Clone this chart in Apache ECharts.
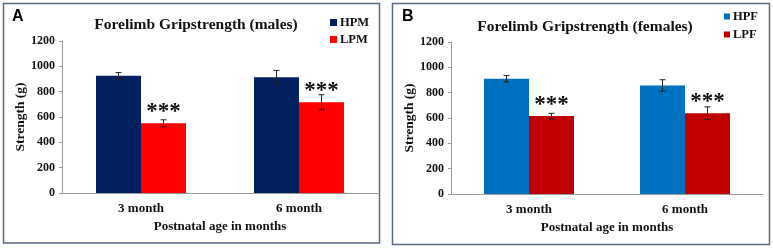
<!DOCTYPE html>
<html>
<head>
<meta charset="utf-8">
<script src="https://cdn.jsdelivr.net/npm/echarts@6/dist/echarts.min.js"></script>
<style>
  html, body { margin: 0; padding: 0; background: #fff; }
  #main { width: 773px; height: 248px; }
</style>
</head>
<body>
<div id="main"></div>
<script>
// categories and values
const categories = ['3 month', '6 month'];
const yTicks = { min: 0, max: 1200, step: 200 };

const hpm = [926, 913];
const hpmErr = [25, 55];
const lpm = [550, 716];
const lpmErr = [28, 60];

const hpf = [910, 857];
const hpfErr = [25, 45];
const lpf = [615, 638];
const lpfErr = [22, 50];

const stars = ['***', '***'];

const serif = 'Liberation Serif';
const BAR_W = 45;

let myChart = echarts.init(document.getElementById('main'));

function makeXAxis(gridIndex) {
    return {
        type: 'category',
        gridIndex: gridIndex,
        data: categories,
        name: 'Postnatal age in months',
        nameLocation: 'middle',
        nameGap: 27,
        nameTextStyle: {fontFamily: serif, fontWeight: 'bold', fontSize: 13, color: '#111'},
        axisLine: {lineStyle: {color: '#9a9a9a', width: 1}},
        axisTick: {show: false},
        axisLabel: {fontFamily: serif, fontWeight: 'bold', fontSize: 13, color: '#111', margin: 9}
    };
}

function makeYAxis(gridIndex) {
    return {
        type: 'value',
        gridIndex: gridIndex,
        min: yTicks.min,
        max: yTicks.max,
        interval: yTicks.step,
        name: 'Strength (g)',
        nameLocation: 'middle',
        nameGap: 31,
        nameTextStyle: {fontFamily: serif, fontWeight: 'bold', fontSize: 13.5, color: '#111'},
        axisLine: {show: true, lineStyle: {color: '#9a9a9a', width: 1}},
        axisTick: {show: true, length: 3, lineStyle: {color: '#9a9a9a'}},
        splitLine: {show: false},
        axisLabel: {
            fontFamily: serif, fontWeight: 'bold', fontSize: 12, color: '#111', margin: 7,
            formatter: v => String(v)
        }
    };
}

// error bars drawn at the bar centre (left bar: -1, right bar: +1)
function errorSeries(name, values, errs, side, idx) {
    return {
        type: 'custom',
        name: name + ' err',
        xAxisIndex: idx,
        yAxisIndex: idx,
        z: 5,
        silent: true,
        data: values.map((v, i) => [i, v, errs[i]]),
        renderItem: function (params, api) {
            let c = api.value(0);
            let v = api.value(1);
            let e = api.value(2);
            let hi = api.coord([c, v + e]);
            let lo = api.coord([c, v - e]);
            let x = hi[0] + side * BAR_W / 2;
            let cap = 3;
            let st = {stroke: '#222', lineWidth: 1};
            return {
                type: 'group',
                children: [
                    {type: 'line', shape: {x1: x, y1: hi[1], x2: x, y2: lo[1]}, style: st},
                    {type: 'line', shape: {x1: x - cap, y1: hi[1], x2: x + cap, y2: hi[1]}, style: st},
                    {type: 'line', shape: {x1: x - cap, y1: lo[1], x2: x + cap, y2: lo[1]}, style: st}
                ]
            };
        }
    };
}

function barSeries(name, values, color, idx, withStars) {
    let s = {
        type: 'bar',
        name: name,
        xAxisIndex: idx,
        yAxisIndex: idx,
        data: values,
        barWidth: BAR_W,
        barGap: '0%',
        itemStyle: {color: color}
    };
    if (withStars) {
        s.label = {
            show: true,
            position: 'top',
            distance: 0,
            formatter: p => stars[p.dataIndex],
            fontFamily: serif,
            fontWeight: 'bold',
            fontSize: 23,
            color: '#111'
        };
    }
    return s;
}

let option = {
    backgroundColor: '#fff',
    animation: false,
    title: [
        {
            text: 'Forelimb Gripstrength (males)',
            left: 191, top: 12, textAlign: 'center',
            textStyle: {fontFamily: serif, fontWeight: 'bold', fontSize: 15.5, color: '#111'}
        },
        {
            text: 'Forelimb Gripstrength (females)',
            left: 580, top: 14, textAlign: 'center',
            textStyle: {fontFamily: serif, fontWeight: 'bold', fontSize: 15.5, color: '#111'}
        },
        {
            text: 'A', left: 7, top: 4,
            textStyle: {fontFamily: 'Liberation Sans', fontWeight: 'bold', fontSize: 16, color: '#000'}
        },
        {
            text: 'B', left: 397, top: 4,
            textStyle: {fontFamily: 'Liberation Sans', fontWeight: 'bold', fontSize: 16, color: '#000'}
        }
    ],
    legend: [
        {
            data: ['HPM', 'LPM'],
            orient: 'vertical',
            left: 325, top: 11,
            itemWidth: 7, itemHeight: 7, itemGap: 4,
            icon: 'rect',
            textStyle: {fontFamily: serif, fontWeight: 'bold', fontSize: 12.5, color: '#111', padding: [0, 0, 0, -2]}
        },
        {
            data: ['HPF', 'LPF'],
            orient: 'vertical',
            left: 719, top: 5,
            itemWidth: 6, itemHeight: 6, itemGap: 5,
            icon: 'rect',
            textStyle: {fontFamily: serif, fontWeight: 'bold', fontSize: 12.5, color: '#111', padding: [0, 0, 0, -2]}
        }
    ],
    grid: [
        {left: 62, right: 395, top: 41, bottom: 55},
        {left: 451, right: 10, top: 42, bottom: 54}
    ],
    xAxis: [makeXAxis(0), makeXAxis(1)],
    yAxis: [makeYAxis(0), makeYAxis(1)],
    series: [
        barSeries('HPM', hpm, '#002060', 0, false),
        barSeries('LPM', lpm, '#ff0000', 0, true),
        barSeries('HPF', hpf, '#0070c0', 1, false),
        barSeries('LPF', lpf, '#c00000', 1, true),
        errorSeries('HPM', hpm, hpmErr, -1, 0),
        errorSeries('LPM', lpm, lpmErr, 1, 0),
        errorSeries('HPF', hpf, hpfErr, -1, 1),
        errorSeries('LPF', lpf, lpfErr, 1, 1)
    ],
    graphic: [
        {type: 'rect', shape: {x: 3.5, y: 3.5, width: 376, height: 239.5},
            style: {fill: 'none', stroke: '#5a6a85', lineWidth: 1.5}, z: 10, silent: true},
        {type: 'rect', shape: {x: 392.5, y: 3.5, width: 377, height: 241},
            style: {fill: 'none', stroke: '#5a6a85', lineWidth: 1.5}, z: 10, silent: true}
    ]
};

myChart.setOption(option);
</script>
</body>
</html>
